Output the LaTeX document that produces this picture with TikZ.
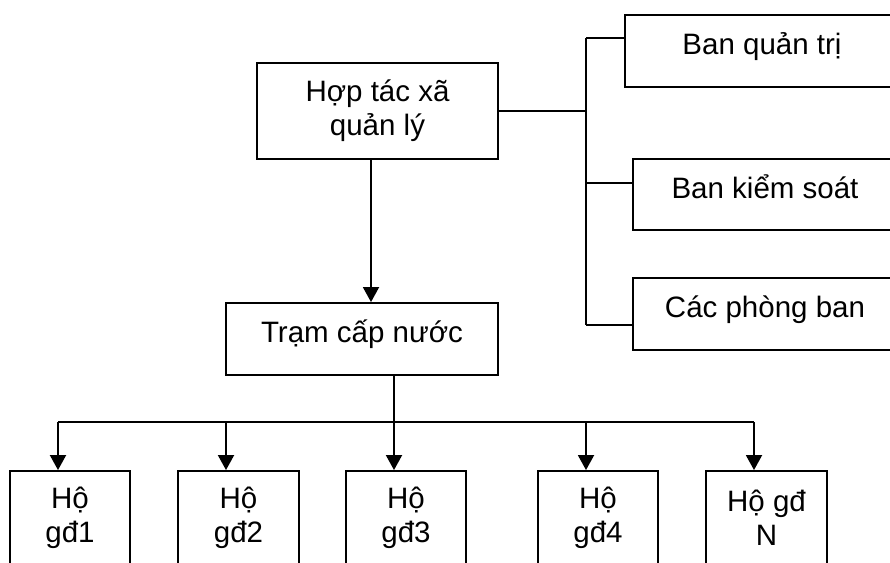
\documentclass[tikz,border=0pt]{standalone}
\usepackage{fontspec}
\setmainfont{Liberation Sans}
\usetikzlibrary{arrows.meta}
\begin{document}
\begin{tikzpicture}[x=1pt,y=-1pt,
  box/.style={draw, line width=1.9pt, inner sep=0pt, align=center,
    font=\fontsize{29.5}{34}\selectfont},
  oneline/.style={box, text height=20pt, text depth=13pt},
  hotext/.style={inner sep=0pt, align=center, font=\fontsize{29.5}{34}\selectfont},
  link/.style={line width=1.9pt},
  arrowlink/.style={link, -{Triangle[length=15pt,width=16pt]}}]
\useasboundingbox (0,0) rectangle (890,562);
\clip (0,0) rectangle (890,562);

% management and the water station
\node[box, minimum width=241pt, minimum height=96pt] (htx) at (377.5,111) {Hợp tác xã\\quản lý};
\node[oneline, minimum width=272pt, minimum height=72pt] (tram) at (362,339) {Trạm cấp nước};

% departments on the right
\node[oneline, minimum width=274pt, minimum height=72pt] (bqt) at (762,51) {Ban quản trị};
\node[oneline, minimum width=264pt, minimum height=71pt] (bks) at (765,194.5) {Ban kiểm soát};
\node[oneline, minimum width=264pt, minimum height=72pt] (cpb) at (765,314) {Các phòng ban};

% households
\node[box, minimum width=120pt, minimum height=110pt] (h1) at (70,526) {};
\node[box, minimum width=121pt, minimum height=110pt] (h2) at (238.5,526) {};
\node[box, minimum width=120pt, minimum height=110pt] (h3) at (406,526) {};
\node[box, minimum width=120pt, minimum height=110pt] (h4) at (598,526) {};
\node[box, minimum width=121pt, minimum height=110pt] (h5) at (766.5,526) {};
\node[hotext] (h1t) at (70,518) {Hộ\\gđ1};
\node[hotext] (h2t) at (238.5,518) {Hộ\\gđ2};
\node[hotext] (h3t) at (406,518) {Hộ\\gđ3};
\node[hotext] (h4t) at (598,518) {Hộ\\gđ4};
\node[hotext] (h5t) at (766.5,518) {Hộ gđ\\N};

% bracket to the departments
\coordinate (jq) at (586,38);
\coordinate (jk) at (586,183);
\coordinate (jp) at (586,325);
\draw[link] (htx.east) -- (htx.east -| jq);
\draw[link] (jq) -- (jp);
\draw[link] (jq) -- (jq -| bqt.west);
\draw[link] (jk) -- (jk -| bks.west);
\draw[link] (jp) -- (jp -| cpb.west);

% management down to the station
\coordinate (dn) at (371,0);
\draw[arrowlink] (htx.south -| dn) -- (tram.north -| dn);

% station down to the households
\coordinate (bc) at (394,422);
\coordinate (a1) at (58,422);
\coordinate (a2) at (226,422);
\coordinate (a3) at (394,422);
\coordinate (a4) at (586,422);
\coordinate (a5) at (754,422);
\draw[link] (tram.south -| bc) -- (bc);
\draw[link] (a1) -- (a5);
\draw[arrowlink] (a1) -- (a1 |- h1.north);
\draw[arrowlink] (a2) -- (a2 |- h2.north);
\draw[arrowlink] (a3) -- (a3 |- h3.north);
\draw[arrowlink] (a4) -- (a4 |- h4.north);
\draw[arrowlink] (a5) -- (a5 |- h5.north);
\end{tikzpicture}
\end{document}
